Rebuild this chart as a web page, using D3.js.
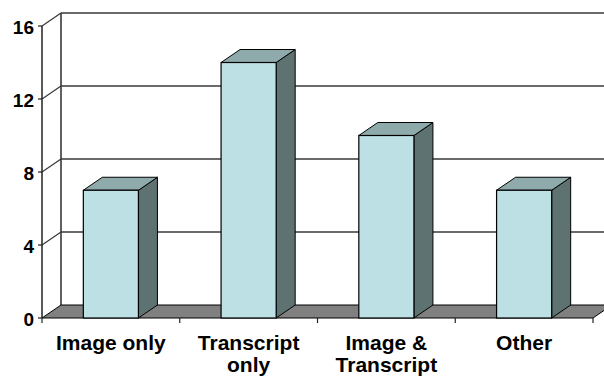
<!DOCTYPE html>
<html>
<head>
<meta charset="utf-8">
<script src="https://cdn.jsdelivr.net/npm/d3@7"></script>
<style>
  html, body { margin: 0; padding: 0; background: #fff; }
  svg { display: block; }
  text { font-family: Arial, "Liberation Sans", sans-serif; font-weight: bold; fill: #000; }
</style>
</head>
<body>
<svg id="chart" width="604" height="377"></svg>
<script>
// Chart data
const categories = ["Image only", "Transcript only", "Image & Transcript", "Other"];
const categoryLines = [["Image only"], ["Transcript", "only"], ["Image &", "Transcript"], ["Other"]];
const values = [7, 14, 10, 7];
const yTicks = [0, 4, 8, 12, 16];

const W = 604, H = 377;
const plotLeft = 42, plotRight = 593, plotBottom = 318, plotTop = 26;
const depthX = 19, depthY = -13;   // oblique depth offset

const svg = d3.select("#chart");

const y = d3.scaleLinear().domain([0, 16]).range([plotBottom, plotTop]);
const x = d3.scaleBand().domain(categories).range([plotLeft, plotRight]).padding(0);
const barW = x.bandwidth() * 0.4;

const gridColor = "#383838";

// Back wall gridlines
const back = svg.append("g");
back.selectAll("line.grid")
  .data(yTicks.filter(d => d > 0))
  .join("line")
  .attr("x1", plotLeft + depthX).attr("x2", W + 10)
  .attr("y1", d => y(d) + depthY).attr("y2", d => y(d) + depthY)
  .attr("stroke", gridColor).attr("stroke-width", 1.6);

// Side wall: back vertical edge and diagonal connectors
back.append("line")
  .attr("x1", plotLeft + depthX).attr("x2", plotLeft + depthX)
  .attr("y1", y(16) + depthY).attr("y2", y(0) + depthY)
  .attr("stroke", gridColor).attr("stroke-width", 1.6);
back.selectAll("line.diag")
  .data(yTicks.filter(d => d > 0))
  .join("line")
  .attr("x1", plotLeft).attr("x2", plotLeft + depthX)
  .attr("y1", d => y(d)).attr("y2", d => y(d) + depthY)
  .attr("stroke", gridColor).attr("stroke-width", 1.2);

// Floor
svg.append("polygon")
  .attr("points", [
    [plotLeft, y(0)], [plotRight, y(0)],
    [plotRight + depthX, y(0) + depthY], [plotLeft + depthX, y(0) + depthY]
  ].map(p => p.join(",")).join(" "))
  .attr("fill", "#808080").attr("stroke", "#000").attr("stroke-width", 1);

// Bars (front, top, side faces)
const bars = svg.append("g").selectAll("g.bar")
  .data(categories.map((c, i) => ({ c, v: values[i] })))
  .join("g");

bars.each(function (d) {
  const g = d3.select(this);
  const x0 = x(d.c) + (x.bandwidth() - barW) / 2;
  const x1 = x0 + barW;
  const yt = y(d.v), yb = y(0);
  const poly = pts => pts.map(p => p.join(",")).join(" ");
  // side face
  g.append("polygon")
    .attr("points", poly([[x1, yb], [x1 + depthX, yb + depthY], [x1 + depthX, yt + depthY], [x1, yt]]))
    .attr("fill", "#5e7272").attr("stroke", "#000").attr("stroke-width", 1);
  // top face
  g.append("polygon")
    .attr("points", poly([[x0, yt], [x0 + depthX, yt + depthY], [x1 + depthX, yt + depthY], [x1, yt]]))
    .attr("fill", "#8eaaab").attr("stroke", "#000").attr("stroke-width", 1);
  // front face
  g.append("rect")
    .attr("x", x0).attr("y", yt).attr("width", barW).attr("height", yb - yt)
    .attr("fill", "#bce0e3").attr("stroke", "#000").attr("stroke-width", 1.2);
});

// Front value axis
const axisG = svg.append("g");
axisG.append("line")
  .attr("x1", plotLeft).attr("x2", plotLeft).attr("y1", y(16)).attr("y2", y(0))
  .attr("stroke", "#222").attr("stroke-width", 1.5);
axisG.selectAll("line.tick")
  .data(yTicks).join("line")
  .attr("x1", plotLeft - 4).attr("x2", plotLeft)
  .attr("y1", d => y(d)).attr("y2", d => y(d))
  .attr("stroke", "#222").attr("stroke-width", 1.2);
axisG.selectAll("text")
  .data(yTicks).join("text")
  .attr("x", 34).attr("y", d => y(d))
  .attr("dy", "0.42em")
  .attr("text-anchor", "end")
  .style("font-size", "19px")
  .text(d => d);

// Category axis ticks and labels
const catTicks = categories.map(c => x(c)).concat([plotRight]);
svg.append("g").selectAll("line")
  .data(catTicks).join("line")
  .attr("x1", d => d).attr("x2", d => d)
  .attr("y1", y(0)).attr("y2", y(0) + 5)
  .attr("stroke", "#222").attr("stroke-width", 1.2);

svg.append("g").selectAll("text")
  .data(categories.map((c, i) => ({ c, lines: categoryLines[i] })))
  .join("text")
  .attr("x", d => x(d.c) + x.bandwidth() / 2)
  .attr("y", 350)
  .attr("text-anchor", "middle")
  .style("font-size", "21px")
  .each(function (d) {
    d3.select(this).selectAll("tspan")
      .data(d.lines).join("tspan")
      .attr("x", x(d.c) + x.bandwidth() / 2)
      .attr("dy", (t, i) => i === 0 ? 0 : 22)
      .text(t => t);
  });
</script>
</body>
</html>
